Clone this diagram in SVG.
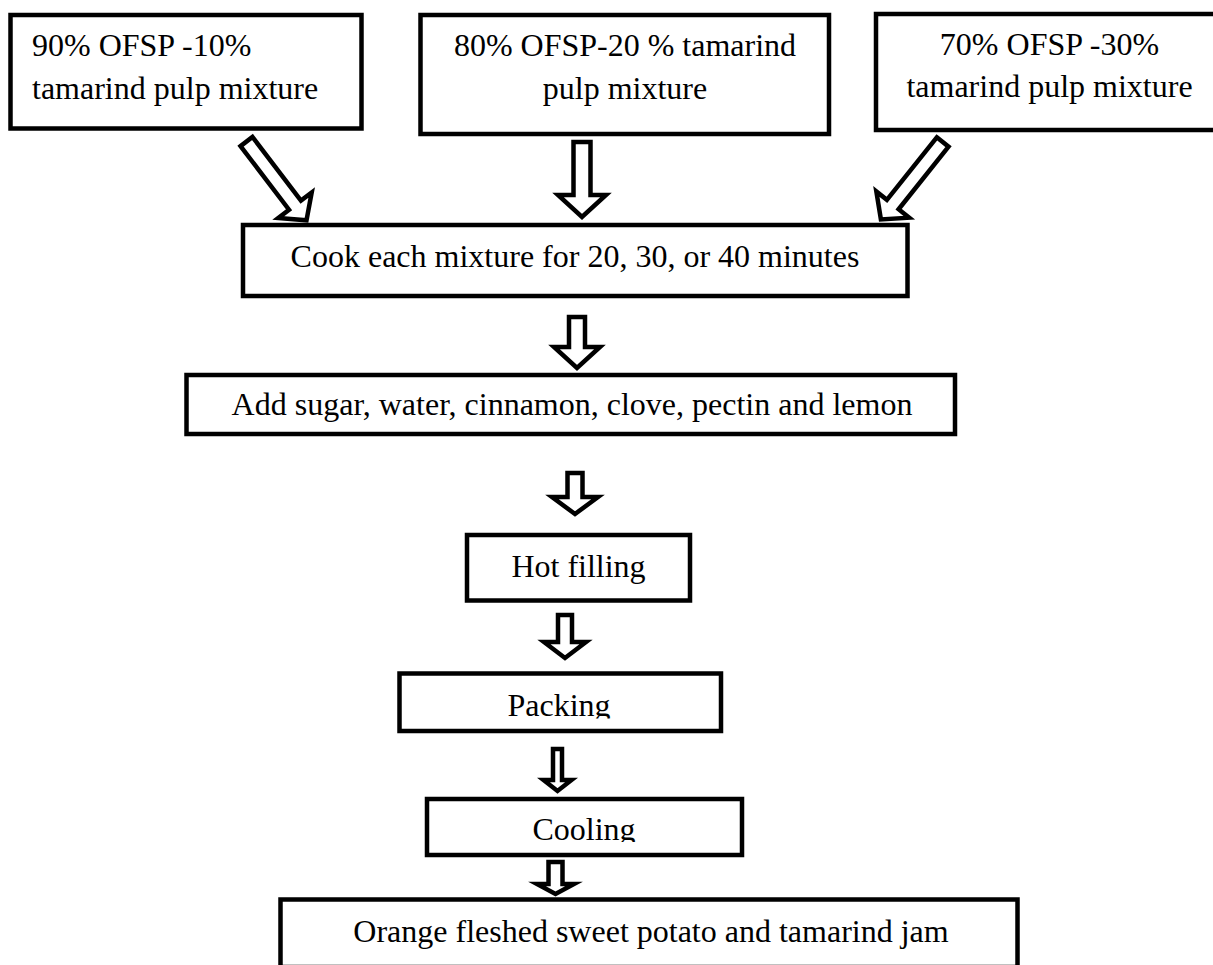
<svg xmlns="http://www.w3.org/2000/svg" width="1213" height="965" viewBox="0 0 1213 965">
  <style>
    .box { fill: #ffffff; stroke: #000000; stroke-width: 4.5; stroke-linejoin: miter; }
    .arrow { fill: #ffffff; stroke: #000000; stroke-width: 4.5; stroke-linejoin: miter; stroke-miterlimit: 10; }
    .t { font-family: "Liberation Serif", "Times New Roman", serif; font-size: 32px; fill: #000000; }
    .c { text-anchor: middle; }
  </style>
  <defs>
    <clipPath id="clipPacking"><rect x="380" y="660" width="360" height="58.5"/></clipPath>
    <clipPath id="clipCooling"><rect x="410" y="790" width="350" height="52"/></clipPath>
    <polygon id="diagArrow" points="-7.5,-99 7.5,-99 7.5,-19 21,-19 0,0 -21,-19 -7.5,-19"/>
  </defs>
  <rect width="1213" height="965" fill="#ffffff"/>

  <g id="connectors">
    <use href="#diagArrow" class="arrow" transform="translate(306.5,220.3) rotate(-37.3)"/>
    <polygon class="arrow" points="573.5,142 590.5,142 590.5,195 606,195 582,217 558,195 573.5,195"/>
    <use href="#diagArrow" class="arrow" transform="translate(880.9,219.4) rotate(38.6)"/>
    <polygon class="arrow" points="569,317 585,317 585,347 600,347 577,368 554,347 569,347"/>
    <polygon class="arrow" points="567.5,473 582.5,473 582.5,497 598,497 575,514 552,497 567.5,497"/>
    <polygon class="arrow" points="558,615 572,615 572,642 586,642 565,658 544,642 558,642"/>
    <polygon class="arrow" points="553,749 562,749 562,780 571.5,780 557.5,791 543.5,780 553,780"/>
    <polygon class="arrow" points="548.5,862 562.5,862 562.5,884 574,884 555.5,894 537,884 548.5,884"/>
  </g>

  <g id="node-mix90">
    <rect class="box" x="10.5" y="15" width="351" height="113.5"/>
    <text class="t" x="32" y="56">90% OFSP -10%</text>
    <text class="t" x="32" y="99">tamarind pulp mixture</text>
  </g>
  <g id="node-mix80">
    <rect class="box" x="420.5" y="15" width="408.5" height="119"/>
    <text class="t c" x="625" y="56">80% OFSP-20 % tamarind</text>
    <text class="t c" x="625" y="99">pulp mixture</text>
  </g>
  <g id="node-mix70">
    <rect class="box" x="876" y="14" width="348" height="116"/>
    <text class="t c" x="1049.5" y="55">70% OFSP -30%</text>
    <text class="t c" x="1049.5" y="97">tamarind pulp mixture</text>
  </g>
  <g id="node-cook">
    <rect class="box" x="243" y="225" width="664.5" height="71"/>
    <text class="t c" x="575" y="267">Cook each mixture for 20, 30, or 40 minutes</text>
  </g>
  <g id="node-add">
    <rect class="box" x="186.5" y="375" width="768.5" height="59"/>
    <text class="t c" x="572" y="415">Add sugar, water, cinnamon, clove, pectin and lemon</text>
  </g>
  <g id="node-hotfilling">
    <rect class="box" x="467" y="535" width="223" height="65.5"/>
    <text class="t c" x="578.5" y="577">Hot filling</text>
  </g>
  <g id="node-packing">
    <rect class="box" x="399.5" y="673.5" width="321.5" height="57.5"/>
    <text class="t c" x="559" y="716" clip-path="url(#clipPacking)">Packing</text>
  </g>
  <g id="node-cooling">
    <rect class="box" x="427" y="799" width="315" height="56"/>
    <text class="t c" x="584" y="840" clip-path="url(#clipCooling)">Cooling</text>
  </g>
  <g id="node-jam">
    <rect class="box" x="280.5" y="899.5" width="737" height="67.5"/>
    <text class="t c" x="651" y="942">Orange fleshed sweet potato and tamarind jam</text>
  </g>
</svg>
